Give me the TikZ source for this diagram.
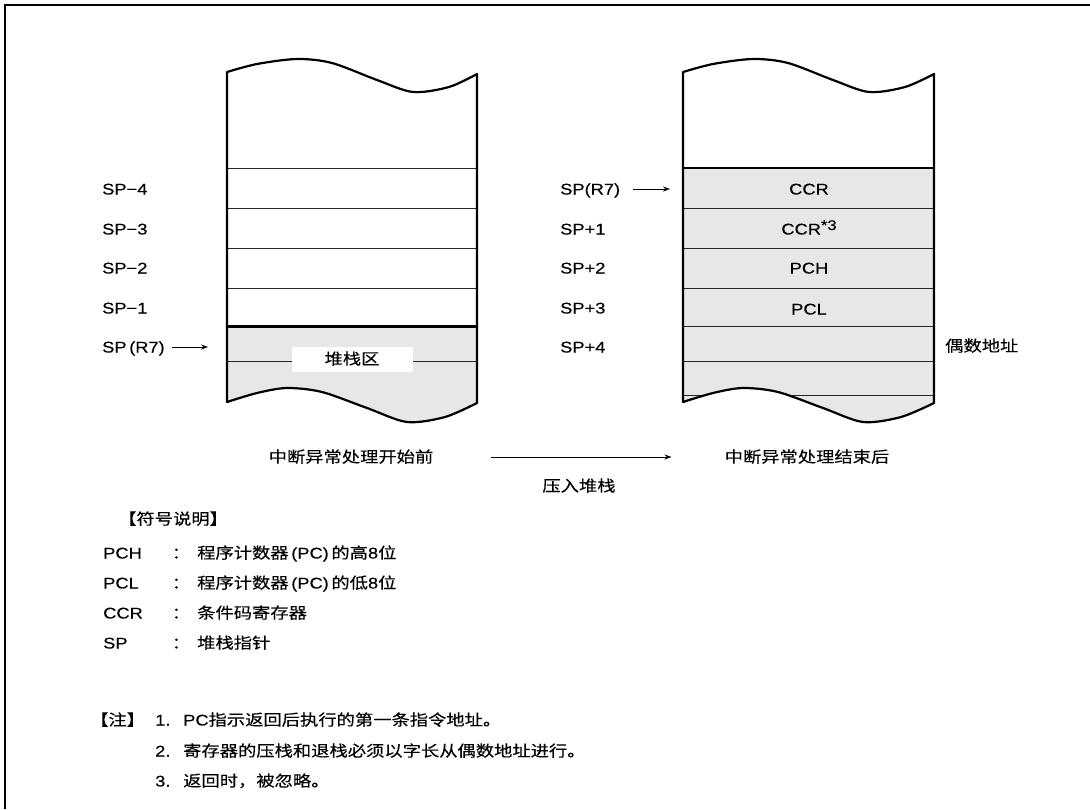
\documentclass[tikz,border=0pt]{standalone}
\usepackage{fontspec}
\setmainfont{Liberation Sans}[FakeStretch=1.18,FakeBold=0.25]
\newfontfamily\cjk{Noto Sans CJK SC}[FakeStretch=1.18,FakeBold=0.2]
\usetikzlibrary{arrows.meta}
\definecolor{stackgray}{HTML}{E6E7E8}
\tikzset{
  txt/.style={font=\fontsize{15.5}{18}\selectfont, inner sep=0pt, text height=12pt, text depth=1pt},
  lbl/.style={txt, anchor=west},
  outline/.style={line width=2.2pt, line join=round},
  rowline/.style={line width=1pt, draw=black!85},
  thickline/.style={line width=2.2pt},
  ptr/.style={line width=0.9pt, -{Stealth[length=7pt,width=5pt]}},
  frameline/.style={line width=2.2pt},
}
\begin{document}
\begin{tikzpicture}[x=1pt,y=-1pt]
\useasboundingbox (0,0) rectangle (1090,809);
\fill[white] (0,0) rectangle (1090,809);
% outer frame (only top and left edges visible)
\draw[frameline] (5,809) -- (5,5) -- (1090,5);

% ---------- left stack ----------
\begin{scope}[xshift=227]
  \begin{scope}
    \clip (0,72) -- (0,402) -- plot[smooth] coordinates {(0,402) (30,393) (60,388) (95,392) (140,408) (180,422) (218,417) (250,403)} -- (250,74) -- plot[smooth] coordinates {(250,74) (222,87) (186,92) (150,80) (105,63) (70,59) (30,64) (0,72)} -- cycle;
    \fill[stackgray] (0,326.5) rectangle (250,440);
    \draw[rowline] (0,361) -- (250,361);
  \end{scope}
  \foreach \yy in {168,208,248,288} \draw[rowline] (0,\yy) -- (250,\yy);
  \draw[thickline] (0,326.5) -- (250,326.5);
  \draw[outline] (0,72) -- (0,402) -- plot[smooth] coordinates {(0,402) (30,393) (60,388) (95,392) (140,408) (180,422) (218,417) (250,403)} -- (250,74) -- plot[smooth] coordinates {(250,74) (222,87) (186,92) (150,80) (105,63) (70,59) (30,64) (0,72)} -- cycle;
\end{scope}

% ---------- right stack ----------
\begin{scope}[xshift=683]
  \begin{scope}
    \clip (0,72) -- (0,402) -- plot[smooth] coordinates {(0,402) (30,393) (60,388) (95,392) (140,408) (180,422) (218,417) (251,403)} -- (251,74) -- plot[smooth] coordinates {(251,74) (222,87) (186,92) (150,80) (105,63) (70,59) (30,64) (0,72)} -- cycle;
    \fill[stackgray] (0,168) rectangle (251,440);
    \foreach \yy in {208,248,288,326.5,361,395} \draw[rowline] (0,\yy) -- (251,\yy);
  \end{scope}
  \draw[thickline] (0,168) -- (251,168);
  \draw[outline] (0,72) -- (0,402) -- plot[smooth] coordinates {(0,402) (30,393) (60,388) (95,392) (140,408) (180,422) (218,417) (251,403)} -- (251,74) -- plot[smooth] coordinates {(251,74) (222,87) (186,92) (150,80) (105,63) (70,59) (30,64) (0,72)} -- cycle;
\end{scope}

% stack area label
\node[txt, fill=white, minimum width=121pt, minimum height=25pt] (stackarea) at (352,359) {\cjk 堆栈区};

% left labels
\node[lbl] (lm4) at (102,189) {SP−4};
\node[lbl] (lm3) at (102,229) {SP−3};
\node[lbl] (lm2) at (102,268) {SP−2};
\node[lbl] (lm1) at (102,308) {SP−1};
\node[lbl] (lr7) at (102,347) {SP\,(R7)};
\coordinate (lr7tip) at (208,347);
\draw[ptr] ([xshift=7pt]lr7.east) -- (lr7tip);

% right stack contents
\node[txt] (ccr) at (809,189) {CCR};
\node[txt] (ccr3) at (809,229) {CCR\raisebox{4.5pt}{\fontsize{14}{14}\selectfont *3}};
\node[txt] (pch) at (809,268) {PCH};
\node[txt] (pcl) at (809,309) {PCL};

% right labels
\node[lbl] (rr7) at (560,189) {SP(R7)};
\coordinate (rr7tip) at (670,189);
\draw[ptr] ([xshift=13pt]rr7.east) -- (rr7tip);
\node[lbl] (rp1) at (560,229) {SP+1};
\node[lbl] (rp2) at (560,268) {SP+2};
\node[lbl] (rp3) at (560,308) {SP+3};
\node[lbl] (rp4) at (560,347) {SP+4};
\node[lbl] (even) at (945,346) {\cjk 偶数地址};

% captions and push arrow
\node[txt] (before) at (351,457) {\cjk 中断异常处理开始前};
\node[txt] (after) at (807,457) {\cjk 中断异常处理结束后};
\draw[ptr] ([xshift=57pt]before.east) -- ([xshift=-53pt]after.west);
\node[txt] (push) at (579,486) {\cjk 压入堆栈};

% legend
\node[lbl] (legtitle) at (118,519) {\cjk 【符号说明】};
\node[lbl] (kpch) at (103,553) {PCH};
\node[txt] (cpch) at (181,553) {\cjk ：};
\node[lbl] (dpch) at (197,553) {{\cjk 程序计数器}\,(PC)\,{\cjk 的高}8{\cjk 位}};
\node[lbl] (kpcl) at (103,583) {PCL};
\node[txt] (cpcl) at (181,583) {\cjk ：};
\node[lbl] (dpcl) at (197,583) {{\cjk 程序计数器}\,(PC)\,{\cjk 的低}8{\cjk 位}};
\node[lbl] (kccr) at (103,613) {CCR};
\node[txt] (cccr) at (181,613) {\cjk ：};
\node[lbl] (dccr) at (197,613) {\cjk 条件码寄存器};
\node[lbl] (ksp) at (103,643) {SP};
\node[txt] (csp) at (181,643) {\cjk ：};
\node[lbl] (dsp) at (197,643) {\cjk 堆栈指针};

% notes
\node[lbl] (notehead) at (90,720) {\cjk 【注】};
\node[lbl] (n1) at (155,720) {1.};
\node[lbl] (n1t) at (183,720) {PC{\cjk 指示返回后执行的第一条指令地址。}};
\node[lbl] (n2) at (155,751) {2.};
\node[lbl] (n2t) at (183,751) {\cjk 寄存器的压栈和退栈必须以字长从偶数地址进行。};
\node[lbl] (n3) at (155,781) {3.};
\node[lbl] (n3t) at (183,781) {\cjk 返回时，被忽略。};
\end{tikzpicture}
\end{document}
